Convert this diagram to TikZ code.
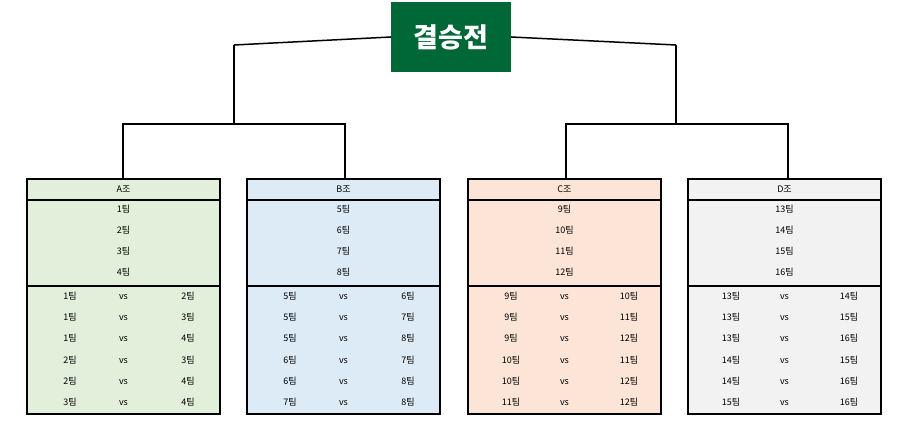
\documentclass[tikz,border=0pt]{standalone}
\usepackage{fontspec}
\setmainfont{Noto Sans CJK KR}
\begin{document}
\begin{tikzpicture}[x=1pt,y=-1pt,
  ln/.style={line width=1.5pt},
  txt/.style={font=\fontsize{9}{10}\selectfont,inner sep=0pt}]
\useasboundingbox (0,0) rectangle (910,438);
\node[fill={rgb,255:red,0;green,104;blue,55},text=white,minimum width=120pt,minimum height=70pt,inner sep=0pt,font=\fontsize{27}{30}\bfseries] (title) at (451,37) {결승전};
\coordinate (L) at (234,45); \coordinate (R) at (676,45);
\draw[ln] (L) -- (title.west); \draw[ln] (title.east) -- (R);
\draw[ln] (L) -- (234,124); \draw[ln] (R) -- (676,124);
\draw[ln] (123,179) -- (123,124) -- (345,124) -- (345,179);
\draw[ln] (566,179) -- (566,124) -- (788,124) -- (788,179);
\foreach \x/\c/\g/\n [count=\i] in {27/E2EFDA/A/1, 247/DDEBF7/B/5, 468/FCE4D6/C/9, 688/F2F2F2/D/13}{
  \definecolor{bg\i}{HTML}{\c}
  \draw[ln,fill=bg\i] (\x,179) rectangle ++(193,235);
  \draw[ln] (\x,200) -- ++(193,0);
  \draw[ln] (\x,286) -- ++(193,0);
  \node[txt] (h\i) at (\x+96.5,189.5) {\g 조};
  \foreach \k [count=\j] in {0,1,2,3}{
    \pgfmathtruncatemacro{\t}{\n+\k}
    \pgfmathsetmacro{\yy}{209+21*\k}
    \node[txt] (t\i\j) at (\x+96.5,\yy) {\t 팀};
  }
  \foreach \a/\b [count=\j] in {0/1,0/2,0/3,1/2,1/3,2/3}{
    \pgfmathtruncatemacro{\ta}{\n+\a}
    \pgfmathtruncatemacro{\tb}{\n+\b}
    \pgfmathsetmacro{\yy}{296+21.2*(\j-1)}
    \node[txt] (ma\i\j) at (\x+43,\yy) {\ta 팀};
    \node[txt] (mv\i\j) at (\x+96.5,\yy+1) {vs};
    \node[txt] (mb\i\j) at (\x+161,\yy) {\tb 팀};
  }
}
\end{tikzpicture}
\end{document}
